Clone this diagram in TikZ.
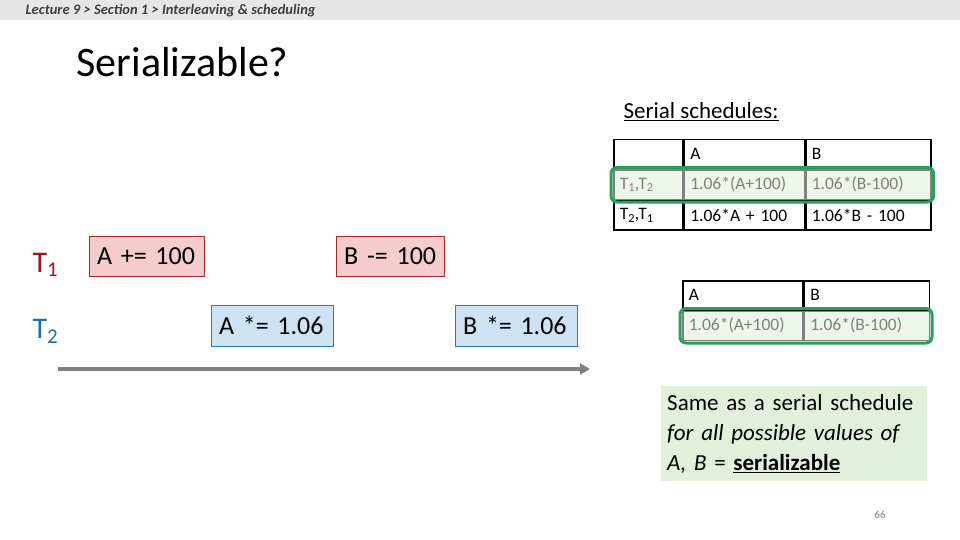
\documentclass[tikz,border=0pt]{standalone}
\usepackage{fontspec}
\setmainfont{Carlito}
\usetikzlibrary{positioning,fit,arrows.meta}

\definecolor{hdrgray}{RGB}{230,230,230}
\definecolor{oneRed}{RGB}{160,20,30}
\definecolor{twoBlue}{RGB}{30,110,170}
\definecolor{opRed}{RGB}{244,204,204}
\definecolor{opRedLine}{RGB}{170,40,40}
\definecolor{opBlue}{RGB}{207,226,243}
\definecolor{opBlueLine}{RGB}{50,120,180}
\definecolor{ringGreen}{RGB}{40,160,90}
\definecolor{noteGreen}{RGB}{226,239,218}
\definecolor{rowGreen}{RGB}{238,245,233}

\newcommand{\fsz}[2]{\fontsize{#1}{#2}\selectfont}

\begin{document}
\begin{tikzpicture}[x=1pt,y=-1pt]
	\tikzstyle{cell}=[draw,line width=1.5pt,anchor=north west,minimum height=29pt,inner xsep=6pt,align=left,font=\fsz{17.5}{20}]
	\tikzstyle{hlcell}=[cell,draw=gray,fill=rowGreen,text=gray]
	\tikzstyle{ring}=[draw=ringGreen,line width=3pt,rounded corners=6pt,inner sep=2pt]
	\tikzstyle{opone}=[draw=opRedLine,fill=opRed,anchor=north west,minimum height=40pt,inner xsep=8pt,align=left,font=\fsz{26}{30}]
	\tikzstyle{optwo}=[draw=opBlueLine,fill=opBlue,anchor=north west,minimum height=41pt,inner xsep=8pt,align=left,font=\fsz{26}{30}]
	\tikzstyle{timeline}=[draw=gray,line width=4pt,-{Triangle[length=10pt,width=11pt]}]
		\useasboundingbox (0,0) rectangle (960,540);
		\fill[hdrgray] (0,0) rectangle (960,20);
		\node[anchor=base west,font=\fsz{14.5}{17}\bfseries\itshape,text=black!75] (crumb) at (22,15) {Lecture 9 > Section 1 > Interleaving \& scheduling};
		\node[anchor=base west,font=\fsz{42}{50}] (title) at (73,77) {Serializable?};
		\node[anchor=base west,font=\fsz{23}{27}] (serial) at (620,119) {\underline{Serial schedules:}};
		% first table
		\node[cell,text width=57pt] (c11) at (613,139) {};
		\node[cell,text width=108pt] (c12) at (c11.north east) {A};
		\node[cell,text width=113pt] (c13) at (c12.north east) {B};
		\node[hlcell,text width=57pt] (c21) at (c11.south west) {T\textsubscript{1},T\textsubscript{2}};
		\node[hlcell,text width=108pt] (c22) at (c21.north east) {1.06*(A+100)};
		\node[hlcell,text width=113pt] (c23) at (c22.north east) {1.06*(B-100)};
		\node[cell,text width=57pt] (c31) at (c21.south west) {T\textsubscript{2},T\textsubscript{1}};
		\node[cell,text width=108pt] (c32) at (c31.north east) {1.06*A + 100};
		\node[cell,text width=113pt] (c33) at (c32.north east) {1.06*B - 100};
		\node[ring,fit=(c21)(c23)] (ringa) {};
		% second table
		\node[cell,text width=108pt] (d12) at (682,280) {A};
		\node[cell,text width=113pt] (d13) at (d12.north east) {B};
		\node[hlcell,text width=108pt] (d22) at (d12.south west) {1.06*(A+100)};
		\node[hlcell,text width=113pt] (d23) at (d22.north east) {1.06*(B-100)};
		\node[ring,fit=(d22)(d23)] (ringb) {};
		% transactions
		\node[anchor=base west,font=\fsz{30}{34},text=oneRed] (tone) at (29,272) {T\textsubscript{1}};
		\node[anchor=base west,font=\fsz{30}{34},text=twoBlue] (ttwo) at (29,338) {T\textsubscript{2}};
		\node[opone,text width=99pt] (aplus) at (89,236) {A += 100};
		\node[opone,text width=92pt] (bminus) at (336,236) {B -= 100};
		\node[optwo,text width=106pt] (atimes) at (211,305) {A *= 1.06};
		\node[optwo,text width=106pt] (btimes) at (455,305) {B *= 1.06};
		\coordinate (tstart) at (58,369);
		\coordinate (tend) at (590,369);
			\draw[timeline] (tstart) -- (tend);
		% conclusion
		\node[fill=noteGreen,anchor=north west,minimum width=266pt,minimum height=95pt,text width=254pt,inner xsep=6pt,align=left,font=\fsz{23}{30}] (note) at (661,386)
			{Same as a serial schedule\\ {\fsz{23}{30}\itshape for all possible values of}\\ {\fsz{23}{30}\itshape A, B} = \underline{\bfseries serializable}};
		\node[font=\fsz{11}{13},text=gray] (page) at (880,515) {66};
\end{tikzpicture}
\end{document}
